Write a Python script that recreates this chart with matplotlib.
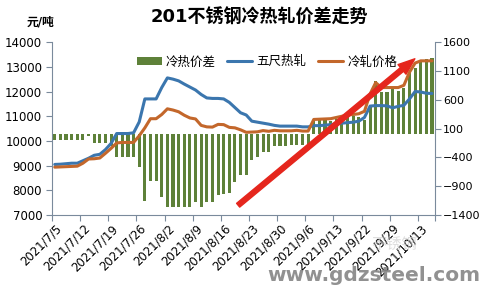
import matplotlib
matplotlib.use('Agg')
import matplotlib.pyplot as plt
from matplotlib.patches import FancyArrowPatch

plt.rcParams['font.family'] = ['DejaVu Sans', 'Noto Sans CJK SC']

# 五尺热轧 (left axis, 元/吨), one value per trading day
hot_rolled = [9050, 9060, 9080, 9100, 9100, 9200, 9300, 9420, 9460, 9650,
              9900, 10300, 10300, 10300, 10330, 10770, 11700, 11700, 11700, 12160,
              12550, 12500, 12430, 12300, 12180, 12060, 11880, 11740, 11720, 11720,
              11700, 11560, 11350, 11140, 11050, 10800, 10760, 10720, 10680, 10630,
              10600, 10600, 10600, 10600, 10570, 10570, 10620, 10620, 10640, 10660,
              10690, 10720, 10740, 10760, 10800, 10950, 11410, 11430, 11430, 11420,
              11340, 11400, 11440, 11700, 12000, 11980, 11930, 11920]

# 冷轧价格 (left axis)
cold_rolled = [8940, 8950, 8960, 8970, 8980, 9100, 9270, 9280, 9310, 9500,
               9700, 9920, 9940, 9940, 9940, 10210, 10530, 10900, 10900, 11070,
               11300, 11250, 11180, 11040, 10930, 10890, 10630, 10570, 10560, 10670,
               10660, 10550, 10530, 10450, 10350, 10360, 10370, 10420, 10390, 10430,
               10410, 10410, 10410, 10430, 10400, 10400, 10870, 10880, 10890, 10900,
               10950, 11000, 11050, 11070, 11100, 11200, 11900, 12360, 12160, 12160,
               12160, 12160, 12250, 12780, 13150, 13240, 13240, 13240]

# 冷热价差 (right axis)
spread = [-100, -100, -100, -100, -100, -100, -30, -150, -150, -150,
          -210, -390, -390, -390, -390, -560, -1160, -800, -800, -1090,
          -1255, -1255, -1255, -1255, -1255, -1170, -1255, -1170, -1170, -1050,
          -1040, -1010, -820, -700, -700, -440, -390, -300, -300, -200,
          -200, -200, -190, -190, -190, -190, 250, 260, 250, 240,
          260, 280, 310, 310, 300, 250, 490, 930, 730, 740,
          820, 760, 810, 1080, 1150, 1260, 1310, 1320]

date_labels = ['2021/7/5', '2021/7/12', '2021/7/19', '2021/7/26', '2021/8/2',
               '2021/8/9', '2021/8/16', '2021/8/23', '2021/8/30', '2021/9/6',
               '2021/9/13', '2021/9/22', '2021/9/29', '2021/10/13']

green = '#5E8139'
blue = '#3B76AE'
orange = '#C3672B'
axis_col = '#7A8A9C'

fig = plt.figure(figsize=(4.81, 2.88), dpi=100)
ax = fig.add_axes([0.108, 0.253, 0.796, 0.601])
ax2 = ax.twinx()

x = list(range(len(hot_rolled)))

bars = ax2.bar(x, spread, width=0.55, color=green, label='冷热价差')
l1, = ax.plot(x, hot_rolled, color=blue, lw=2.2, label='五尺热轧', solid_capstyle='round')
l2, = ax.plot(x, cold_rolled, color=orange, lw=2.2, label='冷轧价格', solid_capstyle='round')

# lines above the bars
ax.set_zorder(ax2.get_zorder() + 1)
ax.patch.set_visible(False)

ax.set_xlim(-0.5, len(x) - 0.5)
ax.set_ylim(7000, 14000)
ax.set_yticks(range(7000, 14001, 1000))
ax2.set_ylim(-1400, 1600)
ax2.set_yticks(range(-1400, 1601, 500))

# category axis: ticks between groups of 5, labels on the category
ax.set_xticks([k - 0.5 for k in range(0, len(x), 5)] + [len(x) - 0.5])
ax.set_xticklabels([])
ax.set_xticks(range(0, 5 * len(date_labels), 5), minor=True)
ax.set_xticklabels(date_labels, minor=True, rotation=45, ha='right',
                   rotation_mode='anchor', fontsize=8.4)
ax.tick_params(axis='x', which='minor', length=0, pad=5)
ax.tick_params(axis='x', which='major', length=4, color=axis_col)

for a in (ax, ax2):
    a.spines['top'].set_visible(False)
    for s in a.spines.values():
        s.set_color(axis_col)
ax.spines['right'].set_visible(False)
ax2.spines['left'].set_visible(False)
ax2.spines['bottom'].set_visible(False)
ax.tick_params(axis='y', length=4, color=axis_col, labelsize=8.5, pad=3)
ax2.tick_params(axis='y', length=4, color=axis_col, labelsize=8, pad=2)

fig.text(0.54, 0.94, '201不锈钢冷热轧价差走势', ha='center', va='center',
         fontsize=13, fontweight='bold', family=['DejaVu Sans', 'Noto Sans CJK SC'])
fig.text(0.085, 0.925, '元/吨', ha='center', va='center', fontsize=8.5, fontweight='bold')

fig.legend([bars, l1, l2], ['冷热价差', '五尺热轧', '冷轧价格'], ncol=3,
           loc='center', bbox_to_anchor=(0.555, 0.785), frameon=False,
           fontsize=9, handlelength=2.0, handletextpad=0.35, columnspacing=0.9,
           handleheight=0.5)

# red arrow overlay
arrow = FancyArrowPatch((236 / 481, 1 - 207 / 288), (417 / 481, 1 - 57 / 288),
                        transform=fig.transFigure, color='#E5261D',
                        arrowstyle='simple,head_width=9,head_length=12,tail_width=3.5',
                        mutation_scale=1, zorder=10)
fig.add_artist(arrow)

# watermark
fig.text(0.998, 0.045, 'www.gdzsteel.com', ha='right', va='center', fontsize=14.5,
         fontweight='bold', color='#858585', alpha=0.9)
fig.text(0.82, 0.15, '不锈钢', ha='center', va='center', fontsize=11,
         color='#C8C8C8', alpha=0.6)

fig.savefig('out.png', dpi=100)
